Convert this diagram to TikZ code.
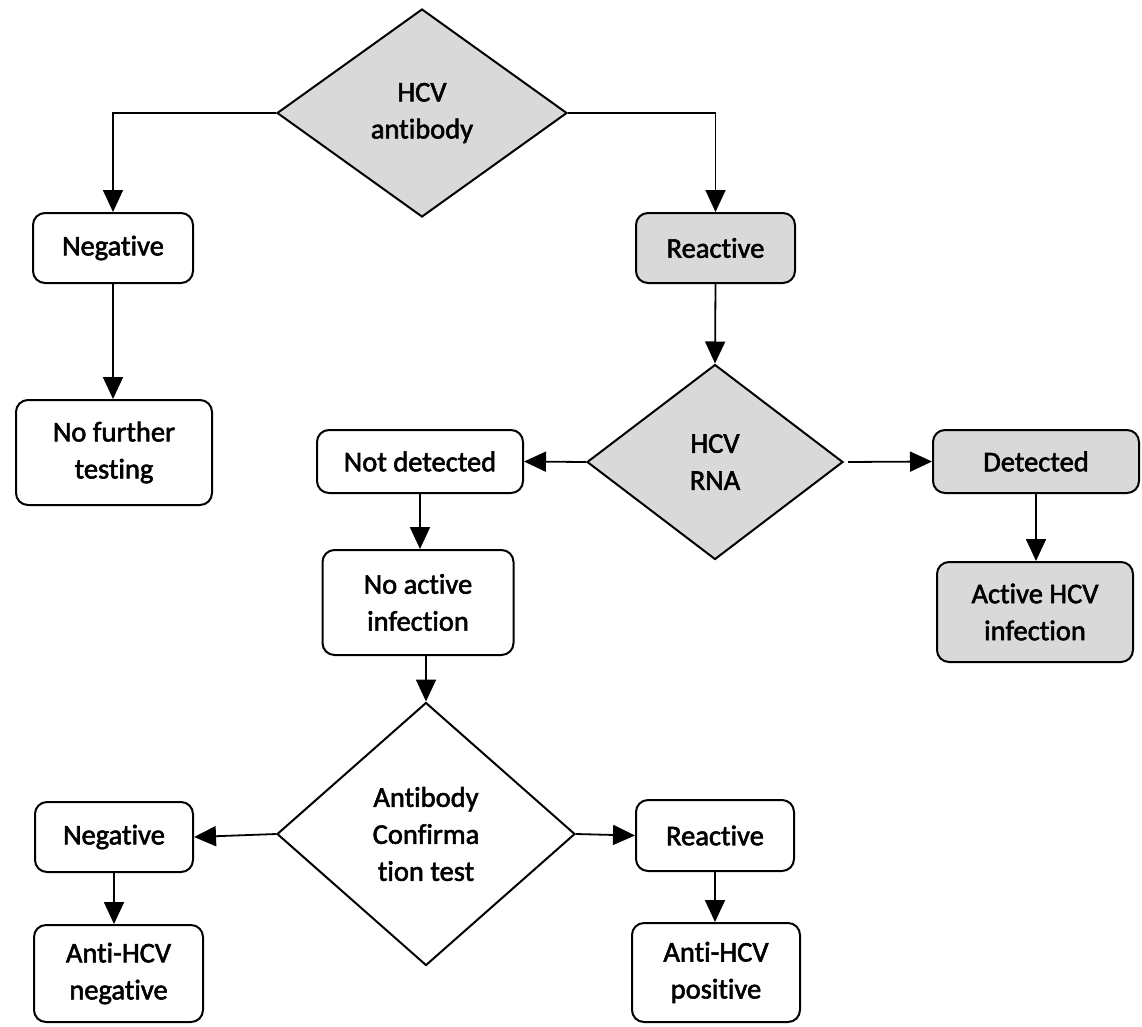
\documentclass[tikz,border=0pt]{standalone}
\usepackage{fontspec}
\setmainfont{Carlito}[FakeBold=2, Ligatures=NoCommon]
\usetikzlibrary{shapes.geometric,arrows.meta,calc}
\definecolor{boxgray}{HTML}{D9D9D9}
\tikzset{
  box/.style={draw=black, line width=2pt, rounded corners=12pt, fill=white,
    align=center, inner sep=0pt, font=\fontsize{28.5}{37}\selectfont},
  graybox/.style={box, fill=boxgray},
  dmd/.style={draw=black, line width=2pt, shape=diamond, inner sep=0pt, fill=white,
    align=center, font=\fontsize{28.5}{37}\selectfont},
  graydmd/.style={dmd, fill=boxgray},
  conn/.style={line width=1.8pt, -{Triangle[length=22pt,width=20pt]}},
}
\begin{document}
\begin{tikzpicture}[x=1pt,y=-1pt]
\useasboundingbox[fill=white] (0,0) rectangle (1142,1026);
% diamonds
\node[graydmd, minimum width=290pt, minimum height=208pt] (d1) at (422,113) {HCV\\antibody};
\node[graydmd, minimum width=256pt, minimum height=195pt] (d2) at (715,462) {HCV\\RNA};
\node[dmd, minimum width=298pt, minimum height=263pt] (d3) at (426,834) {Antibody\\Confirma\\tion test};
% boxes
\node[box, minimum width=160pt, minimum height=70pt] (neg1) at (113,248) {Negative};
\node[graybox, minimum width=159pt, minimum height=70pt] (react1) at (715.5,248) {Reactive};
\node[box, minimum width=196pt, minimum height=105pt] (nofurther) at (114,452.5) {No further\\testing};
\node[box, minimum width=206pt, minimum height=63pt] (notdet) at (420,461.5) {Not detected};
\node[graybox, minimum width=206pt, minimum height=63pt] (detected) at (1036,461.5) {Detected};
\node[box, minimum width=191pt, minimum height=105pt] (noactive) at (418,602.5) {No active\\infection};
\node[graybox, minimum width=196pt, minimum height=100pt] (active) at (1035,612) {Active HCV\\infection};
\node[box, minimum width=158pt, minimum height=70pt] (neg2) at (114,837) {Negative};
\node[box, minimum width=158pt, minimum height=71pt] (react2) at (715,835.5) {Reactive};
\node[box, minimum width=169pt, minimum height=97pt] (antineg) at (118.5,973.5) {Anti-HCV\\negative};
\node[box, minimum width=168pt, minimum height=99pt] (antipos) at (716,972.5) {Anti-HCV\\positive};
% connectors
\draw[conn] (d1.west) -| (neg1.north);
\draw[conn] (d1.east) -| (react1.north);
\draw[conn] (react1.south) -- (d2.north);
\draw[conn] (neg1.south) -- (neg1.south |- nofurther.north);
\draw[conn] (d2.west) -- (notdet.east);
\draw[conn, shorten <=4pt] (d2.east) -- (detected.west);
\draw[conn] (detected.south) -- (detected.south |- active.north);
\draw[conn] (notdet.south) -- (notdet.south |- noactive.north);
\draw[conn] (noactive.south -| d3.north) -- (d3.north);
\draw[conn] (d3.west) -- (neg2.east);
\draw[conn] (d3.east) -- (react2.west);
\draw[conn] (neg2.south) -- (neg2.south |- antineg.north);
\draw[conn] (react2.south) -- (react2.south |- antipos.north);
\end{tikzpicture}
\end{document}
